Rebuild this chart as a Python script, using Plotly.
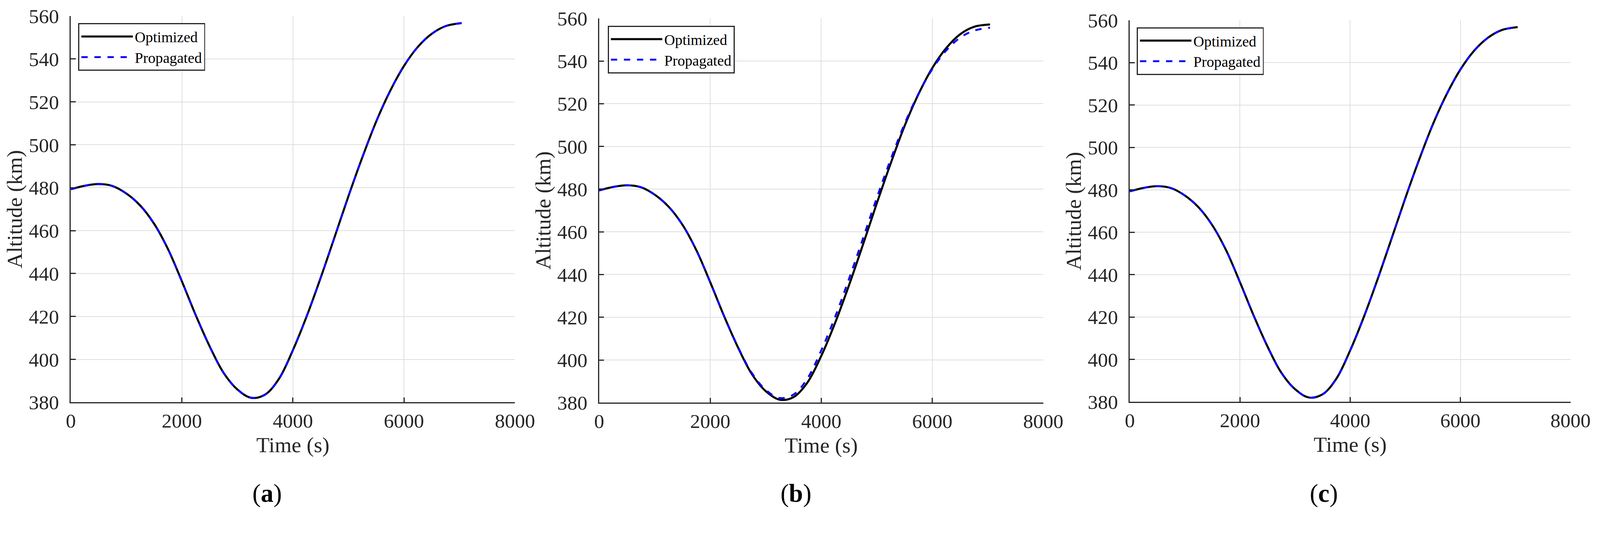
import plotly.graph_objects as go

# reference picture size; the page viewport is 4096 px wide, so every
# pixel quantity is laid out in reference pixels and scaled by S
W, H = 4291, 1374
S = 4096 / W
FONT = "Liberation Serif"
INK = "#262626"
GRID = "#dfdfdf"

# time samples (s)
time_s = [0, 250, 500, 750, 1000, 1250, 1500, 1750, 2000, 2250, 2500, 2750,
          3000, 3250, 3500, 3750, 4000, 4250, 4500, 4750, 5000, 5250, 5500,
          5750, 6000, 6250, 6500, 6750, 7040]

# (a) optimized / propagated altitude (km)
alt_a_opt = [479.3, 480.9, 481.7, 480.8, 477.3, 471.7, 463.2, 451.4, 436.4,
             420.6, 406.1, 393.8, 386.0, 382.1, 383.6, 391.0, 404.3, 420.2,
             438.0, 456.9, 476.0, 494.1, 510.8, 525.0, 536.7, 545.6, 551.7,
             555.3, 556.7]
alt_a_prop = list(alt_a_opt)

# (b) optimized / propagated altitude (km)
alt_b_opt = [479.4, 481.0, 481.8, 480.9, 477.4, 471.8, 463.3, 451.4, 436.4,
             420.5, 405.9, 393.4, 385.4, 381.4, 382.6, 389.4, 401.9, 417.4,
             435.0, 453.9, 473.3, 492.0, 509.5, 524.4, 536.7, 546.0, 552.5,
             556.0, 557.1]
alt_b_prop = [479.4, 481.0, 481.8, 480.9, 477.4, 471.8, 463.3, 451.4, 436.4,
              420.6, 406.1, 393.9, 386.0, 382.2, 383.8, 391.3, 404.5, 420.2,
              438.0, 456.8, 475.9, 493.9, 510.5, 524.6, 536.2, 544.9, 550.9,
              554.2, 555.6]

# (c) optimized / propagated altitude (km)
alt_c_opt = list(alt_a_opt)
alt_c_prop = list(alt_a_opt)

x_ticks = [0, 2000, 4000, 6000, 8000]
y_ticks = [380, 400, 420, 440, 460, 480, 500, 520, 540, 560]
panel_labels = ["a", "b", "c"]

# pixel boxes of each panel (reference px): left, right, top, bottom
panels = [
    dict(l=190, r=1381, t=43, b=1078, leg=(210, 62), lab=717),
    dict(l=1607, r=2798, t=49, b=1079, leg=(1630, 69), lab=2134),
    dict(l=3030, r=4212, t=54, b=1077, leg=(3049, 73), lab=3550),
]
series = [(alt_a_opt, alt_a_prop), (alt_b_opt, alt_b_prop), (alt_c_opt, alt_c_prop)]

fig = go.Figure()
layout = {}
for i, (p, (opt, prop)) in enumerate(zip(panels, series)):
    n = "" if i == 0 else str(i + 1)
    leg = "legend" + n
    fig.add_trace(go.Scatter(
        x=time_s, y=opt, mode="lines", name="Optimized",
        line=dict(color="black", width=5.5 * S, shape="spline", smoothing=1),
        xaxis="x" + n, yaxis="y" + n, legend=leg,
    ))
    fig.add_trace(go.Scatter(
        x=time_s, y=prop, mode="lines", name="Propagated",
        line=dict(color="#0000ff", width=5 * S, dash="%.1fpx,%.1fpx" % (17 * S, 18 * S),
                  shape="spline", smoothing=1),
        xaxis="x" + n, yaxis="y" + n, legend=leg,
    ))
    common = dict(
        showgrid=True, gridcolor=GRID, gridwidth=2 * S,
        showline=True, linecolor=INK, linewidth=3 * S, mirror=False,
        ticks="inside", ticklen=13 * S, tickwidth=3 * S, tickcolor=INK,
        tickfont=dict(family=FONT, size=54 * S, color=INK),
        zeroline=False, automargin=False,
    )
    layout["xaxis" + n] = dict(
        common, domain=[p["l"] / W, p["r"] / W], anchor="y" + n,
        range=[0, 8000], tickvals=x_ticks, ticklabelstandoff=0,
        title=dict(text="Time (s)", font=dict(family=FONT, size=58 * S, color=INK), standoff=15 * S),
    )
    layout["yaxis" + n] = dict(
        common, domain=[1 - p["b"] / H, 1 - p["t"] / H], anchor="x" + n,
        range=[380, 560], tickvals=y_ticks, ticklabelstandoff=round(18 * S),
        title=dict(text="Altitude (km)", font=dict(family=FONT, size=58 * S, color=INK), standoff=0),
    )
    layout[leg] = dict(
        x=p["leg"][0] / W, y=1 - p["leg"][1] / H, xanchor="left", yanchor="top",
        xref="paper", yref="paper",
        bgcolor="white", bordercolor=INK, borderwidth=3 * S,
        font=dict(family=FONT, size=40 * S, color="black"),
        itemwidth=138 * S, tracegroupgap=0,
    )
    fig.add_annotation(
        x=p["lab"] / W, y=1 - 1322 / H, xref="paper", yref="paper",
        xanchor="center", yanchor="middle",
        text="(<b>%s</b>)" % panel_labels[i], showarrow=False,
        font=dict(family=FONT, size=68 * S, color="black"),
    )

fig.update_layout(
    **layout,
    width=round(W * S), height=round(H * S),
    margin=dict(l=0, r=0, t=0, b=0, pad=0),
    paper_bgcolor="white", plot_bgcolor="white",
    showlegend=True,
)
fig.write_html("out.html", post_script="document.body.style.margin='0';",
               config={"displayModeBar": False})
